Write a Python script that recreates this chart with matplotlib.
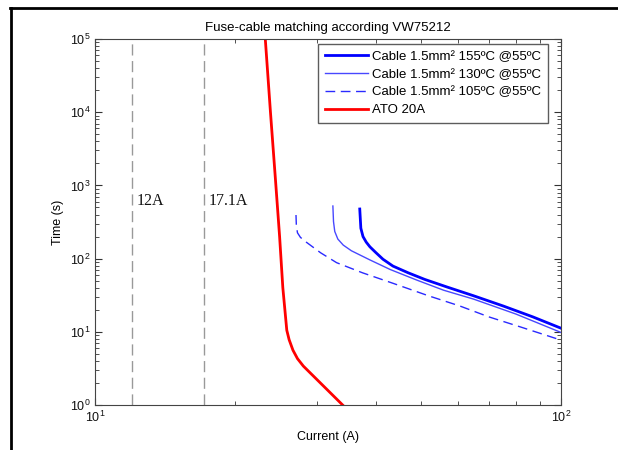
import matplotlib
matplotlib.use("Agg")
import matplotlib.pyplot as plt
from matplotlib.lines import Line2D
from matplotlib.ticker import NullFormatter

plt.rcParams['font.family'] = ['Liberation Sans', 'DejaVu Sans']

# fuse curve ATO 20A (current A, time s)
fuse_i = [23.2, 23.8, 24.4, 24.9, 25.3, 25.8, 26.1, 26.6, 27.2, 28.0, 34.0]
fuse_t = [1e5, 1e4, 1180, 200, 40, 10.5, 7.8, 5.6, 4.3, 3.4, 1.0]

# cable 155C
c155_i = [37.0, 37.2, 37.6, 38.2, 38.9, 40.0, 41.5, 43.6, 47.0, 51.0, 56.9, 65.0, 75.2, 87.0, 100]
c155_t = [476, 260, 200, 168, 145, 122, 98, 79, 64, 52, 41, 31, 22.5, 16, 11.2]

# cable 130C
c130_i = [32.4, 32.5, 32.7, 33.2, 34.1, 35.5, 38.9, 43.0, 49.0, 56.0, 64.9, 80.0, 100]
c130_t = [523, 320, 235, 185, 153, 128, 96, 71, 51, 37, 28, 17.5, 9.8]

# cable 105C
c105_i = [27.0, 27.05, 27.2, 27.6, 28.4, 30.5, 33.0, 37.5, 43.6, 52.0, 60.7, 70.0, 81.7, 100]
c105_t = [394, 280, 225, 195, 168, 120, 88, 64, 46, 31, 22.5, 16, 11.7, 7.7]

limits = [12, 17.1]
limit_labels = ["12A", "17.1A"]

fig = plt.figure(figsize=(6.18, 4.5), dpi=100)
ax = fig.add_axes([0.1537, 0.1, 0.754, 0.8133])

ax.plot(c155_i, c155_t, color="#0000ff", lw=2, label="Cable 1.5mm² 155ºC @55ºC")
ax.plot(c130_i, c130_t, color="#4848ff", lw=1, label="Cable 1.5mm² 130ºC @55ºC")
ax.plot(c105_i, c105_t, color="#2a2aff", lw=1, ls=(0, (7, 4)), label="Cable 1.5mm² 105ºC @55ºC")
ax.plot(fuse_i, fuse_t, color="#ff0000", lw=2, label="ATO 20A")

for x, lab in zip(limits, limit_labels):
    ax.axvline(x, color="#999999", lw=1, ls=(0, (8, 4)))
    ax.text(x * 1.025, 620, lab, family="Liberation Serif", fontsize=11.5,
            va="center", ha="left", color="#111111")

ax.set_xscale("log")
ax.set_yscale("log")
ax.set_xlim(10, 100)
ax.set_ylim(1, 1e5)
ax.set_xticks([10, 100])
ax.set_yticks([1, 10, 100, 1e3, 1e4, 1e5])
ax.xaxis.set_minor_formatter(NullFormatter())
ax.yaxis.set_minor_formatter(NullFormatter())
ax.tick_params(which="both", direction="in", top=True, right=True, colors="#333333",
               labelcolor="#111111", labelsize=9)
ax.tick_params(which="major", length=5)
ax.tick_params(which="minor", length=3)
for s in ax.spines.values():
    s.set_color("#444444")

ax.set_xlabel("Current (A)", fontsize=9)
ax.set_ylabel("Time (s)", fontsize=9)
ax.set_title("Fuse-cable matching according VW75212", fontsize=9.5, pad=6)

leg = ax.legend(loc="upper right", fontsize=9.5, frameon=True, fancybox=False,
                edgecolor="#333333", handlelength=3.3, handletextpad=0.3,
                borderpad=0.5, borderaxespad=0, labelspacing=0.42,
                bbox_to_anchor=(0.972, 0.986))
leg.get_frame().set_linewidth(1)

# outer frame lines (top and left)
fig.add_artist(Line2D([10 / 618, 1], [1 - 8 / 450, 1 - 8 / 450], color="black", lw=2))
fig.add_artist(Line2D([11 / 618, 11 / 618], [0, 1 - 8 / 450], color="black", lw=2))

fig.savefig("out.png", dpi=100)
